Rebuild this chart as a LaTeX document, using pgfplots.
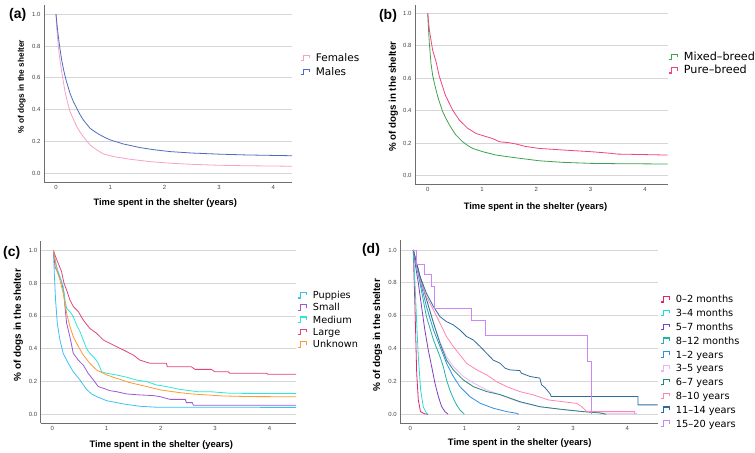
\documentclass[border=0pt]{standalone}
\usepackage{pgfplots}
\pgfplotsset{compat=1.18}
\usepackage{fontspec}
\setmainfont{Liberation Sans}
\newfontfamily\legfont{DejaVu Sans}

\definecolor{gridc}{HTML}{D6D6D6}
\definecolor{axc}{HTML}{6E6E6E}
\definecolor{tickc}{HTML}{444444}
% (a) sex
\definecolor{sexF}{HTML}{F7A1C9}
\definecolor{sexM}{HTML}{4F6BBF}
% (b) breed
\definecolor{breedMix}{HTML}{3FA34D}
\definecolor{breedPure}{HTML}{F0457A}
% (c) size
\definecolor{sizePup}{HTML}{3CC0F5}
\definecolor{sizeSmall}{HTML}{9B59D0}
\definecolor{sizeMed}{HTML}{2EE6D6}
\definecolor{sizeLarge}{HTML}{E0457B}
\definecolor{sizeUnk}{HTML}{FF9933}
% (d) age
\definecolor{ageA}{HTML}{E3236A}
\definecolor{ageB}{HTML}{22DDD5}
\definecolor{ageC}{HTML}{7F3FBF}
\definecolor{ageD}{HTML}{22B3A3}
\definecolor{ageE}{HTML}{2E8FE0}
\definecolor{ageF}{HTML}{E8B6F7}
\definecolor{ageG}{HTML}{23857A}
\definecolor{ageH}{HTML}{FF85B5}
\definecolor{ageI}{HTML}{2F6A9F}
\definecolor{ageJ}{HTML}{CC88F2}

\pgfplotsset{
  km/.style={
    scale only axis,
    anchor=south west,
    axis x line*=bottom, axis y line*=left,
    axis line style={axc, line width=0.8bp},
    ymajorgrids, major grid style={gridc, line width=0.8bp},
    ytick={0,0.2,0.4,0.6,0.8,1.0}, xtick={0,1,2,3,4},
    major tick length=0pt,
    tick label style={font=\fontsize{6}{7}\selectfont, text=tickc,
      /pgf/number format/assume math mode=true},
    yticklabel style={/pgf/number format/.cd, fixed, fixed zerofill, precision=1},
    xticklabel style={/pgf/number format/.cd, fixed, precision=0},
    legend cell align=left,
    legend style={draw=none, fill=none, anchor=north west, inner sep=0pt,
      /tikz/every odd column/.append style={column sep=6bp}},
    legend image code/.code={\draw[##1, line width=1.2bp]
      (0bp,-2.5bp) -- (3bp,-2.5bp) -- (3bp,3bp) -- (8.5bp,3bp) -- (8.5bp,0bp);},
    every axis plot/.append style={line width=0.8bp, no marks},
  },
  legrows/.style 2 args={legend style={font=\legfont\fontsize{#1}{#1}\selectfont,
    nodes={inner sep=0pt, text height=0.75*#2, text depth=0.25*#2}}},
}

\begin{document}
\begin{tikzpicture}[x=1bp, y=1bp]
\useasboundingbox (0,0) rectangle (755,453);

% ---------------- (a) sex ----------------
\begin{axis}[km, at={(44bp,270.7bp)}, width=248bp, height=177.3bp,
  xmin=-0.221, xmax=4.346, ymin=-0.057, ymax=1.058,
  legrows={10.5bp}{14bp},
  legend style={at={(1.032,0.741)}}]
\addplot[color=sexF] coordinates {(0,1.0) (0.012,0.92) (0.043,0.797) (0.07,0.72) (0.104,0.64)
  (0.166,0.514) (0.21,0.45) (0.258,0.388) (0.32,0.34) (0.38,0.294) (0.44,0.26)
  (0.503,0.23) (0.626,0.178) (0.75,0.147) (0.87,0.122) (1.055,0.105) (1.36,0.088)
  (1.73,0.073) (2.1,0.063) (2.5,0.056) (3.0,0.05) (3.5,0.047) (4.346,0.044)};
\addlegendentry{Females}
\addplot[color=sexM] coordinates {(0,1.0) (0.02,0.93) (0.043,0.86) (0.07,0.79) (0.104,0.713)
  (0.14,0.65) (0.184,0.587) (0.258,0.503) (0.32,0.45) (0.38,0.41) (0.44,0.37)
  (0.503,0.335) (0.626,0.283) (0.72,0.26) (0.81,0.241) (0.9,0.225) (0.994,0.21)
  (1.24,0.184) (1.55,0.161) (1.8,0.148) (2.1,0.136) (2.5,0.127) (3.0,0.12)
  (3.5,0.115) (4.0,0.112) (4.346,0.11)};
\addlegendentry{Males}
\end{axis}

% ---------------- (b) breed ----------------
\begin{axis}[km, at={(415bp,269bp)}, width=252.7bp, height=179bp,
  xmin=-0.234, xmax=4.42, ymin=-0.051, ymax=1.051,
  legrows={11.2bp}{13.3bp},
  legend style={at={(1.0012,0.746)}}]
\addplot[color=breedMix] coordinates {(0,1.0) (0.015,0.9) (0.03,0.815) (0.06,0.692) (0.09,0.62)
  (0.123,0.569) (0.184,0.487) (0.23,0.44) (0.276,0.394) (0.34,0.35) (0.4,0.312)
  (0.46,0.28) (0.52,0.25) (0.644,0.209) (0.74,0.185) (0.828,0.168) (1.01,0.148)
  (1.26,0.127) (1.56,0.113) (2.05,0.092) (2.5,0.082) (3.0,0.076) (3.5,0.074) (4.42,0.072)};
\addlegendentry{Mixed–breed}
\addplot[color=breedPure] coordinates {(0,1.0) (0.03,0.897) (0.09,0.774) (0.153,0.702) (0.215,0.61)
  (0.276,0.548) (0.32,0.5) (0.368,0.466) (0.46,0.404) (0.58,0.343) (0.736,0.292)
  (0.89,0.26) (1.08,0.24) (1.2,0.228) (1.32,0.209) (1.5,0.203) (1.63,0.195)
  (1.8,0.18) (2.05,0.168) (2.5,0.158) (3.0,0.148) (3.3,0.14) (3.5,0.133)
  (4.0,0.13) (4.42,0.127)};
\addlegendentry{Pure–breed}
\end{axis}

% ---------------- (c) size ----------------
\begin{axis}[km, at={(40.7bp,29.7bp)}, width=255.3bp, height=182.3bp,
  xmin=-0.214, xmax=4.49, ymin=-0.055, ymax=1.057,
  legrows={9.7bp}{12.3bp},
  legend style={at={(1.004,0.736)}}]
\addplot[color=sizePup] coordinates {(0.02,1.0) (0.037,0.86) (0.06,0.697) (0.092,0.555)
  (0.141,0.453) (0.2,0.372) (0.294,0.311) (0.386,0.26) (0.51,0.209) (0.63,0.152)
  (0.72,0.125) (0.816,0.108) (1.0,0.083) (1.31,0.063) (1.61,0.049) (1.92,0.043)
  (4.49,0.042)};
\addlegendentry{Puppies}
\addplot[color=sizeSmall] coordinates {(0.02,1.0) (0.05,0.9) (0.11,0.86) (0.17,0.81) (0.215,0.738)
  (0.233,0.657) (0.264,0.555) (0.294,0.514) (0.337,0.453) (0.386,0.372) (0.48,0.33)
  (0.57,0.3) (0.66,0.25) (0.755,0.21) (0.847,0.169) (0.94,0.159) (1.06,0.144)
  (1.18,0.138) (1.37,0.124) (1.61,0.118) (1.86,0.114) (1.98,0.108) (2.17,0.091)
  (2.45,0.091) (2.47,0.071) (2.58,0.071) (2.6,0.055) (4.49,0.055)};
\addlegendentry{Small}
\addplot[color=sizeMed] coordinates {(0.02,1.0) (0.08,0.9) (0.14,0.84) (0.2,0.78) (0.233,0.697)
  (0.264,0.646) (0.325,0.626) (0.386,0.596) (0.448,0.545) (0.51,0.504) (0.57,0.453)
  (0.63,0.402) (0.69,0.372) (0.785,0.341) (0.847,0.311) (0.908,0.26) (1.0,0.25)
  (1.18,0.24) (1.37,0.226) (1.55,0.209) (1.74,0.199) (1.92,0.179) (2.1,0.169)
  (2.35,0.152) (2.67,0.138) (2.9,0.138) (3.29,0.128) (4.49,0.126)};
\addlegendentry{Medium}
\addplot[color=sizeLarge] coordinates {(0.02,1.0) (0.05,0.97) (0.11,0.92) (0.17,0.87) (0.215,0.8)
  (0.264,0.758) (0.325,0.697) (0.386,0.657) (0.48,0.626) (0.57,0.575) (0.69,0.524)
  (0.816,0.494) (0.94,0.453) (1.06,0.433) (1.18,0.413) (1.31,0.392) (1.49,0.362)
  (1.61,0.331) (1.8,0.311) (2.1,0.311) (2.12,0.29) (2.56,0.29) (2.63,0.274)
  (2.93,0.274) (2.99,0.26) (3.24,0.26) (3.27,0.25) (3.95,0.25) (3.97,0.244) (4.49,0.244)};
\addlegendentry{Large}
\addplot[color=sizeUnk] coordinates {(0.02,1.0) (0.08,0.88) (0.14,0.82) (0.2,0.738) (0.264,0.616)
  (0.325,0.535) (0.386,0.474) (0.48,0.413) (0.57,0.362) (0.69,0.311) (0.816,0.27)
  (1.0,0.24) (1.18,0.22) (1.43,0.193) (1.74,0.169) (2.0,0.148) (2.35,0.132)
  (2.57,0.124) (3.13,0.112) (3.6,0.108) (4.49,0.107)};
\addlegendentry{Unknown}
\end{axis}

% ---------------- (d) age ----------------
\begin{axis}[km, at={(400.3bp,29.7bp)}, width=257.4bp, height=183.3bp,
  xmin=-0.182, xmax=4.562, ymin=-0.055, ymax=1.061,
  legrows={9.8bp}{13.8bp},
  legend style={at={(1.009,0.714)}}]
\addplot[color=ageA] coordinates {(0.057,1.0) (0.07,0.85) (0.088,0.655) (0.12,0.25) (0.15,0.087)
  (0.19,0.016) (0.27,0.002) (0.33,0.0)};
\addlegendentry{0–2 months}
\addplot[color=ageB] coordinates {(0.057,1.0) (0.088,0.8) (0.12,0.554) (0.15,0.35) (0.193,0.148)
  (0.24,0.047) (0.3,0.006) (0.33,0.0)};
\addlegendentry{3–4 months}
\addplot[color=ageC] coordinates {(0.057,1.0) (0.1,0.9) (0.15,0.8) (0.21,0.655) (0.27,0.513)
  (0.334,0.39) (0.396,0.29) (0.457,0.189) (0.52,0.107) (0.58,0.047) (0.64,0.016) (0.7,0.0)};
\addlegendentry{5–7 months}
\addplot[color=ageD] coordinates {(0.057,1.0) (0.18,0.8) (0.3,0.594) (0.43,0.452) (0.55,0.35)
  (0.61,0.29) (0.67,0.209) (0.73,0.148) (0.795,0.097) (0.856,0.057) (0.918,0.026)
  (0.98,0.006) (1.0,0.0)};
\addlegendentry{8–12 months}
\addplot[color=ageE] coordinates {(0.057,1.0) (0.18,0.82) (0.3,0.655) (0.43,0.513) (0.55,0.412)
  (0.67,0.31) (0.795,0.23) (0.918,0.168) (1.1,0.107) (1.29,0.067) (1.53,0.037)
  (1.78,0.016) (1.96,0.006) (2.0,0.0)};
\addlegendentry{1–2 years}
\addplot[color=ageF] coordinates {(0.057,1.0) (0.18,0.84) (0.3,0.7) (0.43,0.56) (0.55,0.44)
  (0.67,0.35) (0.795,0.29) (0.98,0.23) (1.165,0.19) (1.41,0.148) (1.66,0.118)
  (2.02,0.073) (2.39,0.046) (2.76,0.03) (3.2,0.016) (3.6,0.006) (4.17,0.006) (4.17,0.0)};
\addlegendentry{3–5 years}
\addplot[color=ageG] coordinates {(0.057,1.0) (0.18,0.84) (0.3,0.7) (0.43,0.554) (0.55,0.432)
  (0.67,0.33) (0.795,0.27) (0.98,0.209) (1.165,0.168) (1.41,0.138) (1.655,0.12)
  (2.02,0.077) (2.39,0.046) (2.76,0.031) (3.19,0.016) (3.5,0.008) (3.61,0.0)};
\addlegendentry{6–7 years}
\addplot[color=ageH] coordinates {(0.057,1.0) (0.18,0.82) (0.3,0.716) (0.43,0.635) (0.55,0.554)
  (0.67,0.473) (0.795,0.412) (0.918,0.361) (1.04,0.31) (1.23,0.27) (1.41,0.24)
  (1.59,0.199) (1.78,0.168) (2.02,0.138) (2.27,0.118) (2.55,0.087) (3.07,0.066)
  (3.16,0.046) (3.26,0.016) (4.14,0.016) (4.14,0.0)};
\addlegendentry{8–10 years}
\addplot[color=ageI] coordinates {(0.057,1.0) (0.18,0.84) (0.3,0.736) (0.43,0.655) (0.55,0.594)
  (0.67,0.564) (0.795,0.544) (0.918,0.513) (1.04,0.473) (1.165,0.452) (1.29,0.412)
  (1.41,0.371) (1.53,0.33) (1.66,0.31) (1.75,0.28) (1.84,0.27) (2.02,0.266)
  (2.05,0.25) (2.21,0.23) (2.39,0.22) (2.42,0.18) (2.49,0.16) (2.58,0.124)
  (2.6,0.108) (4.2,0.108) (4.2,0.057) (4.562,0.057)};
\addlegendentry{11–14 years}
\addplot[color=ageJ] coordinates {(0.057,1.0) (0.11,1.0) (0.11,0.91) (0.27,0.91) (0.27,0.85)
  (0.4,0.85) (0.4,0.777) (0.45,0.777) (0.45,0.645) (1.13,0.645) (1.13,0.574)
  (1.38,0.574) (1.38,0.483) (3.26,0.483) (3.26,0.32) (3.34,0.32) (3.34,0.0)};
\addlegendentry{15–20 years}
\end{axis}

% ---------------- titles and axis labels ----------------
\begin{scope}[every node/.style={inner sep=0pt}]
\node[font=\bfseries\fontsize{14}{14}\selectfont] at (17.7,438) {(a)};
\node[font=\bfseries\fontsize{14}{14}\selectfont] at (388,437) {(b)};
\node[font=\bfseries\fontsize{14}{14}\selectfont] at (11.7,199.7) {(c)};
\node[font=\bfseries\fontsize{14}{14}\selectfont] at (371,203) {(d)};

\node[font=\bfseries\fontsize{9.4}{10}\selectfont] at (165.3,250.3) {Time spent in the shelter (years)};
\node[font=\bfseries\fontsize{9.4}{10}\selectfont] at (535.5,245.7) {Time spent in the shelter (years)};
\node[font=\bfseries\fontsize{9.4}{10}\selectfont] at (161.3,8) {Time spent in the shelter (years)};
\node[font=\bfseries\fontsize{9.4}{10}\selectfont] at (519.7,9.7) {Time spent in the shelter (years)};

\node[rotate=90, font=\bfseries\fontsize{8.3}{9}\selectfont] at (21.7,366.3) {\% of dogs in the shelter};
\node[rotate=90, font=\bfseries\fontsize{9.8}{10}\selectfont] at (393.3,356.3) {\% of dogs in the shelter};
\node[rotate=90, font=\bfseries\fontsize{10}{10}\selectfont] at (18.3,128) {\% of dogs in the shelter};
\node[rotate=90, font=\bfseries\fontsize{10}{10}\selectfont] at (377.5,118) {\% of dogs in the shelter};
\end{scope}
\end{tikzpicture}
\end{document}
